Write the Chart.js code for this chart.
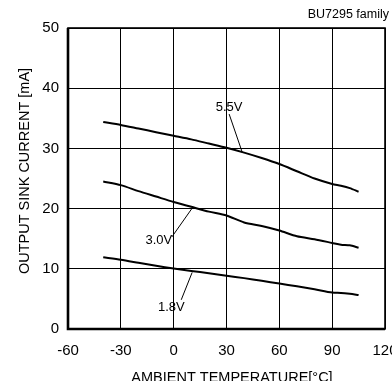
<!DOCTYPE html>
<html>
<head>
<meta charset="utf-8">
<script src="https://cdn.jsdelivr.net/npm/chart.js@4.4.1/dist/chart.umd.min.js"></script>
<style>
html,body{margin:0;padding:0;background:#fff;overflow:hidden;}
#wrap{width:392px;height:381px;overflow:hidden;position:relative;}
canvas{display:block;}
</style>
</head>
<body>
<div id="wrap"><canvas id="c" width="400" height="395"></canvas></div>
<script>
// Temperatures (°C)
const temps = [-40,-30,-20,-10,0,10,20,30,40,50,60,70,80,90,95,100,105];
// Output sink current (mA) per supply voltage
const sink55 = [34.4,33.9,33.3,32.7,32.1,31.5,30.8,30.1,29.3,28.4,27.4,26.2,25.0,24.1,23.8,23.4,22.8];
const sink30 = [24.5,23.9,22.9,22.0,21.1,20.3,19.5,18.85,17.7,17.1,16.35,15.4,14.9,14.3,14.0,13.9,13.5];
const sink18 = [11.9,11.5,11.0,10.5,10.05,9.65,9.25,8.85,8.45,8.0,7.55,7.1,6.6,6.05,6.0,5.85,5.65];
const seriesNames = ['5.5V','3.0V','1.8V'];
const notes = [
  ['5.5V', 31.5, 36.8, 31.5, 35.7, 39, 29.3],
  ['3.0V', -8.4, 14.7, -1, 15.3, 10.2, 19.95],
  ['1.8V', -1.3, 3.65, 4.3, 4.85, 10.5, 9.4]
];
const xTicks = [-60,-30,0,30,60,90,120];
const yTicks = [0,10,20,30,40,50];
const xTitle = 'AMBIENT TEMPERATURE[°C]';
const yTitle = 'OUTPUT SINK CURRENT [mA]';
const chartTitle = 'BU7295 family';

const FONT = '"Liberation Sans", Arial, sans-serif';

const mk = (name, arr) => ({
  label: name,
  data: temps.map((t,i)=>({x:t,y:arr[i]})),
  borderColor:'#000', borderWidth:2, pointRadius:0, tension:0.25, fill:false
});

const deco = {
  id:'deco',
  afterDraw(chart){
    const {ctx, chartArea:a, scales:{x,y}} = chart;
    ctx.save();
    ctx.strokeStyle='#000';
    ctx.lineWidth=1.6;
    ctx.strokeRect(a.left, a.top, a.right-a.left, a.bottom-a.top);
    ctx.lineWidth=2.6;
    ctx.beginPath();
    ctx.moveTo(a.left, a.top); ctx.lineTo(a.left, a.bottom); ctx.lineTo(a.right, a.bottom);
    ctx.stroke();
    ctx.lineWidth=1;
    ctx.fillStyle='#000';
    ctx.font='13px '+FONT;
    ctx.textAlign='center'; ctx.textBaseline='middle';
    notes.forEach(n=>{
      ctx.fillText(n[0], x.getPixelForValue(n[1]), y.getPixelForValue(n[2]));
      ctx.beginPath();
      ctx.moveTo(x.getPixelForValue(n[3]), y.getPixelForValue(n[4]));
      ctx.lineTo(x.getPixelForValue(n[5]), y.getPixelForValue(n[6]));
      ctx.stroke();
    });
    ctx.font='12.5px '+FONT;
    ctx.textAlign='right';
    ctx.fillText(chartTitle, 389, 15);
    ctx.font='14.5px '+FONT;
    ctx.textAlign='center';
    ctx.fillText(xTitle, 232, 378);
    ctx.save();
    ctx.translate(25, 171);
    ctx.rotate(-Math.PI/2);
    ctx.fillText(yTitle, 0, 0);
    ctx.restore();
    ctx.restore();
  }
};

new Chart(document.getElementById('c'), {
  type:'line',
  data:{ datasets:[mk(seriesNames[0],sink55), mk(seriesNames[1],sink30), mk(seriesNames[2],sink18)] },
  options:{
    responsive:false, animation:false, devicePixelRatio:1,
    layout:{padding:{top:28,right:15,left:0,bottom:0}},
    plugins:{legend:{display:false}, tooltip:{enabled:false}},
    scales:{
      x:{type:'linear', min:-60, max:120,
        afterBuildTicks(s){ s.ticks = xTicks.map(v=>({value:v})); },
        afterFit(s){ s.height = 66; s.paddingLeft = 0; s.paddingRight = 0; },
        grid:{color:'#000', lineWidth:1, drawTicks:false},
        border:{display:false},
        ticks:{color:'#000', padding:13, font:{family:FONT, size:15}, maxRotation:0}
      },
      y:{type:'linear', min:0, max:50,
        afterBuildTicks(s){ s.ticks = yTicks.map(v=>({value:v})); },
        afterFit(s){ s.width = 68; s.paddingTop = 0; s.paddingBottom = 0; },
        grid:{color:'#000', lineWidth:1, drawTicks:false},
        border:{display:false},
        ticks:{color:'#000', padding:9, font:{family:FONT, size:15}}
      }
    }
  },
  plugins:[deco]
});
</script>
</body>
</html>
